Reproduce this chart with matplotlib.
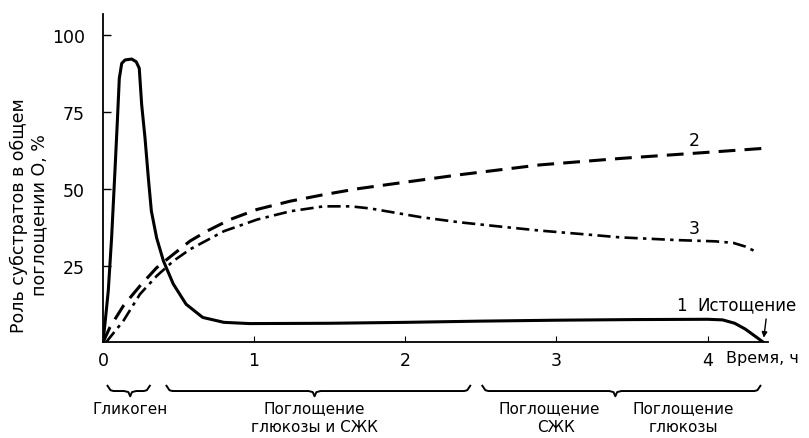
import matplotlib
matplotlib.use("Agg")
import matplotlib.pyplot as plt
import matplotlib.transforms as mtransforms

plt.rcParams['font.family'] = ['DejaVu Sans']

# curve 1 - glycogen (solid)
t1 = [0, 0.015, 0.035, 0.057, 0.079, 0.095, 0.108, 0.124, 0.146, 0.19, 0.22, 0.24,
      0.256, 0.278, 0.30, 0.32, 0.355, 0.40, 0.465, 0.55, 0.66, 0.80, 0.97,
      1.5, 2.0, 2.5, 3.0, 3.5, 4.0, 4.1, 4.18, 4.25, 4.32, 4.37]
v1 = [0, 7, 16.8, 34, 55.7, 72, 86, 90.9, 92, 92.3, 91.4, 89.3,
      77.4, 66.6, 53.6, 42.8, 34, 26.5, 19, 12.4, 8.1, 6.5, 6.1,
      6.2, 6.5, 6.9, 7.2, 7.4, 7.5, 7.3, 6.2, 4.3, 1.8, 0]

# curve 2 - glucose (dashed)
t2 = [0, 0.046, 0.135, 0.245, 0.355, 0.466, 0.576, 0.687, 0.84, 1.02, 1.24, 1.46,
      1.68, 1.9, 2.36, 2.89, 3.42, 4.0, 4.4]
v2 = [0, 4.9, 11.9, 18.4, 24.3, 28.7, 33, 36.2, 40, 43.3, 46, 48.1,
      50, 51.5, 54.6, 57.8, 59.9, 61.9, 63.3]

# curve 3 - FFA (dash-dot)
t3 = [0.02, 0.135, 0.245, 0.355, 0.466, 0.576, 0.8, 1.02, 1.24, 1.46, 1.64, 1.77,
      1.9, 2.1, 2.36, 2.63, 2.89, 3.16, 3.42, 3.8, 4.05, 4.17, 4.25, 4.33]
v3 = [0, 7, 15.7, 21.6, 26.5, 30.3, 36.2, 40, 42.7, 44.3, 44.3, 43.6,
      42.5, 40.8, 39.1, 37.7, 36.4, 35.3, 34.2, 33.3, 32.9, 32.4, 31.2, 29.3]

xticks = [0, 1, 2, 3, 4]
xtick_labels = ["0", "1", "2", "3", "4"]
yticks = [25, 50, 75, 100]

# phase braces: (start, end, tip) in hours
braces = [(0.03, 0.31, 0.18), (0.42, 2.43, 1.40), (2.51, 4.35, 3.39)]

fig = plt.figure(figsize=(8.09, 4.39), dpi=100)
ax = fig.add_axes([0.1273, 0.218, 0.822, 0.748])

line_kw = dict(color="black", solid_joinstyle="round", solid_capstyle="round")
ax.plot(t1, v1, lw=2.2, **line_kw)
ax.plot(t2, v2, color="black", lw=2.2, dashes=(5.5, 3))
ax.plot(t3, v3, color="black", lw=1.9, dashes=(5, 2, 1.3, 2))

ax.set_xlim(0, 4.4)
ax.set_ylim(0, 107)
for s in ["top", "right"]:
    ax.spines[s].set_visible(False)
ax.spines["left"].set_linewidth(1.3)
ax.spines["bottom"].set_linewidth(1.3)

ax.set_xticks(xticks)
ax.set_xticklabels(xtick_labels)
ax.set_yticks(yticks)
ax.set_yticklabels([str(v) for v in yticks])
ax.tick_params(axis="y", direction="in", length=6, width=1, labelsize=12.5, pad=13)
ax.tick_params(axis="x", direction="in", length=4, width=0.8, labelsize=12.5, pad=6)

ax.text(4.12, -5.0, "Время, ч", fontsize=11.5, ha="left", va="center")

ax.set_ylabel("Роль субстратов в общем\nпоглощении O, %", fontsize=12.5,
              linespacing=1.15)
ax.yaxis.set_label_coords(-0.083, 0.39)

ax.text(3.83, 12.3, "1", fontsize=12, ha="center", va="center")
ax.text(3.93, 12.3, "Истощение", fontsize=12, ha="left", va="center")
ax.annotate("", xy=(4.37, 0.6), xytext=(4.39, 8.5),
            arrowprops=dict(arrowstyle="-|>", color="black", lw=1, mutation_scale=8))
ax.text(3.91, 66, "2", fontsize=12.5, ha="center", va="center")
ax.text(3.91, 37.3, "3", fontsize=12.5, ha="center", va="center")

# braces under the axis
tr = mtransforms.blended_transform_factory(ax.transData, fig.transFigure)
yb = 0.107
h = 0.012
for x0, x1, xm in braces:
    c = 0.04
    xs = [x0, x0 + c * 0.5, x0 + c, xm - c, xm - c * 0.3, xm,
          xm + c * 0.3, xm + c, x1 - c, x1 - c * 0.5, x1]
    ys = [yb + h, yb + h * 0.15, yb, yb, yb - h * 0.2, yb - h,
          yb - h * 0.2, yb, yb, yb + h * 0.15, yb + h]
    ax.plot(xs, ys, color="black", lw=1.4, transform=tr, clip_on=False)

lab_kw = dict(transform=tr, fontsize=11, ha="center", va="center")
ax.text(0.18, 0.068, "Гликоген", **lab_kw)
ax.text(1.40, 0.068, "Поглощение", **lab_kw)
ax.text(1.40, 0.027, "глюкозы и СЖК", **lab_kw)
ax.text(2.95, 0.068, "Поглощение", **lab_kw)
ax.text(3.0, 0.027, "СЖК", **lab_kw)
ax.text(3.84, 0.068, "Поглощение", **lab_kw)
ax.text(3.84, 0.027, "глюкозы", **lab_kw)

fig.savefig("out.png", dpi=100)
